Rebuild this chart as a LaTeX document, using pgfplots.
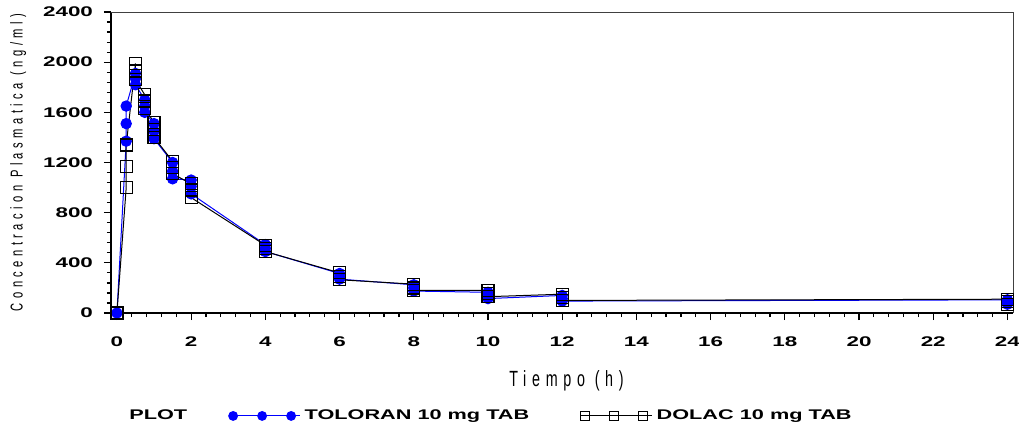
\documentclass[border=0pt]{standalone}
\usepackage{pgfplots}
\pgfplotsset{compat=1.18}
\usepackage{fontspec}
\setmainfont{Liberation Sans}
\newfontfamily\tickfont[FakeStretch=1.6]{Liberation Sans}
\newfontfamily\legfont[FakeStretch=1.55]{Liberation Sans}
\newfontfamily\lblfont[FakeStretch=0.65,LetterSpace=26]{Liberation Sans}
\definecolor{sasblue}{RGB}{0,0,255}

\begin{document}
\begin{tikzpicture}
\begin{axis}[
    at={(0,0)}, anchor=south west,
    scale only axis,
    width=451pt, height=150.5pt,
    xmin=-0.16, xmax=24.15,
    ymin=0, ymax=2400,
    xtick={0,2,...,24},
    ytick={0,400,...,2400},
    minor x tick num=4,
    minor y tick num=4,
    axis lines=left,
    axis line style={-, line width=0.8pt},
    tick align=outside,
    major tick length=3.5pt,
    minor tick length=2pt,
    every tick/.style={black, line width=0.6pt},
    tick label style={font=\tickfont\bfseries\fontsize{7}{8}\selectfont},
    /pgf/number format/assume math mode=true,
    /pgf/number format/1000 sep={},
    yticklabel style={xshift=-2pt},
    xticklabel style={yshift=-5pt},
    xlabel={Tiempo (h)},
    ylabel={Concentracion Plasmatica (ng/ml)},
    xlabel style={font=\lblfont\fontsize{11}{12}\selectfont, at={(axis description cs:0.505,-0.226)}, anchor=center},
    ylabel style={font=\lblfont\fontsize{8.6}{10}\selectfont, at={(axis description cs:-0.103,0.5)}, anchor=center},
    clip=false,
    legend columns=-1,
    legend style={draw=none, fill=none, at={(axis description cs:0.0155,-0.342)}, anchor=west,
        font=\legfont\bfseries\fontsize{7}{8}\selectfont,
        /tikz/column 2/.style={column sep=18.5pt},
        /tikz/column 4/.style={column sep=23.5pt},
        inner sep=0pt},
    legend image code/.code={%
        \draw[#1, mark size=2.2pt] plot coordinates {(0pt,0pt) (14.5pt,0pt) (29pt,0pt)};
        \path (-2.2pt,0pt) -- (33.5pt,0pt);},
]
\addlegendimage{empty legend}
\addlegendentry{PLOT}

% TOLORAN 10 mg TAB
\addplot[sasblue, line width=0.5pt, mark=*, mark size=2.6pt,
    mark options={fill=sasblue, draw=sasblue}] coordinates {
    (0,0)
    (0.25,1370) (0.25,1510) (0.25,1650)
    (0.5,1910) (0.5,1870) (0.5,1820)
    (0.75,1700) (0.75,1650) (0.75,1600)
    (1,1510) (1,1450) (1,1390)
    (1.5,1200) (1.5,1130) (1.5,1070)
    (2,1060) (2,1010) (2,950)
    (4,545) (4,515) (4,490)
    (6,315) (6,290) (6,270)
    (8,225) (8,200) (8,175)
    (10,165) (10,140) (10,115)
    (12,140) (12,115) (12,95)
    (24,105) (24,85) (24,70)
};
\addlegendentry{TOLORAN 10 mg TAB}

% DOLAC 10 mg TAB
\addplot[black, line width=0.5pt, mark=square, mark size=3pt,
    mark options={draw=black, fill=none, line width=0.6pt}] coordinates {
    (0,0)
    (0.25,1000) (0.25,1170) (0.25,1340)
    (0.5,1990) (0.5,1930) (0.5,1860)
    (0.75,1740) (0.75,1690) (0.75,1630)
    (1,1520) (1,1460) (1,1400)
    (1.5,1210) (1.5,1160) (1.5,1110)
    (2,1030) (2,980) (2,920)
    (4,540) (4,515) (4,490)
    (6,320) (6,290) (6,265)
    (8,230) (8,200) (8,180)
    (10,180) (10,155) (10,130)
    (12,150) (12,125) (12,100)
    (24,110) (24,90) (24,70)
};
\addlegendentry{DOLAC 10 mg TAB}

\draw[black!75, line width=0.5pt] (rel axis cs:0,1) -- (rel axis cs:1,1) -- (rel axis cs:1,0);
\end{axis}
\pgfresetboundingbox
\path (-55.5pt,-58pt) rectangle (454pt,156.5pt);
\end{tikzpicture}
\end{document}
